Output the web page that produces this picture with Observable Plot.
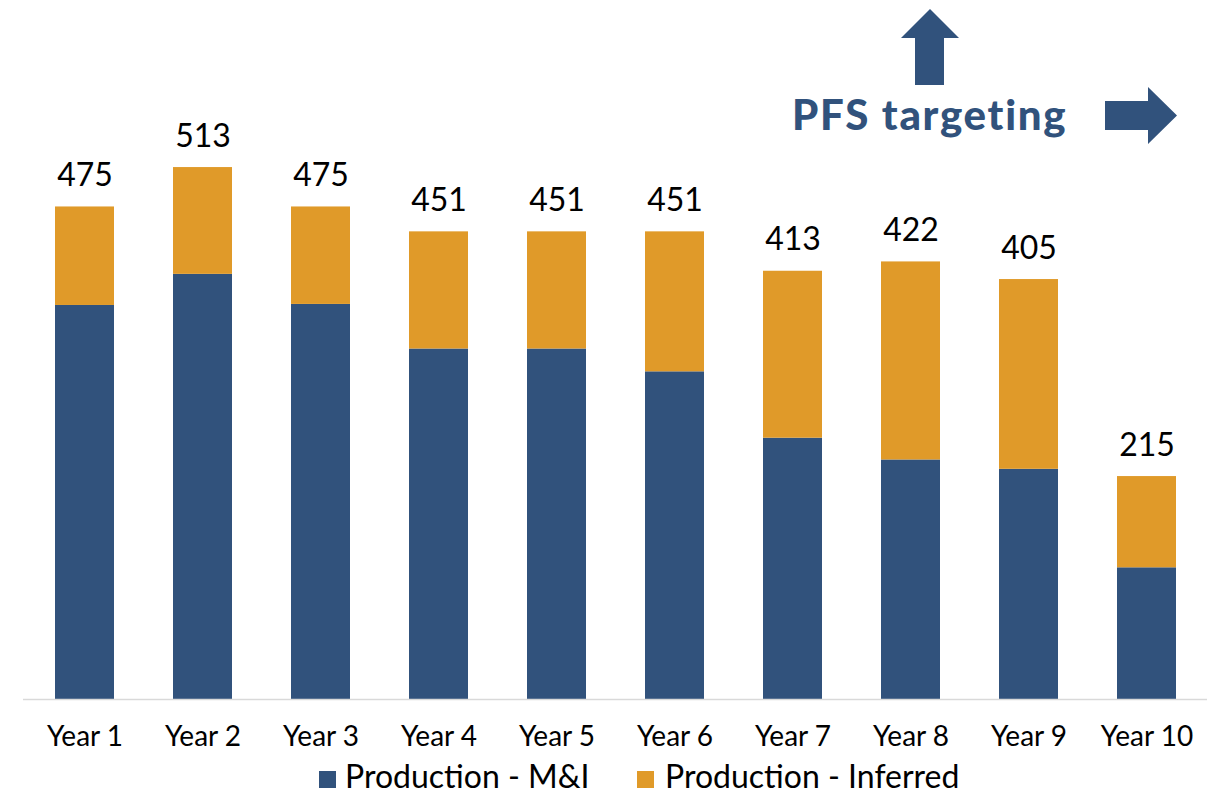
<!DOCTYPE html>
<html>
<head>
<meta charset="utf-8">
<script src="https://cdn.jsdelivr.net/npm/d3@7"></script>
<script src="https://cdn.jsdelivr.net/npm/@observablehq/plot@0.6"></script>
<style>
  body { margin: 0; background: #fff; font-family: Lato, "Noto Sans", sans-serif; }
  #wrap { position: relative; width: 1215px; height: 795px; }
  .swatch { position: absolute; top: 771px; width: 17px; height: 17px; }
  .legend-text { position: absolute; top: 757px; font-size: 32px; line-height: 1.2; color: #000; white-space: nowrap; }
</style>
</head>
<body>
<div id="wrap"></div>
<script>
const years = ["Year 1","Year 2","Year 3","Year 4","Year 5","Year 6","Year 7","Year 8","Year 9","Year 10"];
const totals = [475, 513, 475, 451, 451, 451, 413, 422, 405, 215];
const mi = [380, 410, 381, 338, 338, 316, 252, 231, 222, 127];
const inferred = totals.map((t, i) => t - mi[i]);
const seriesNames = ["Production - M&I", "Production - Inferred"];
const seriesColors = ["#31527C", "#E09A29"];
const annotationText = "PFS targeting";

const rows = [];
years.forEach((y, i) => {
  rows.push({year: y, series: seriesNames[0], value: mi[i]});
  rows.push({year: y, series: seriesNames[1], value: inferred[i]});
});
const labels = years.map((y, i) => ({year: y, total: totals[i]}));

const plot = Plot.plot({
  width: 1215,
  height: 755,
  marginLeft: 23,
  marginRight: 8,
  marginTop: 25,
  marginBottom: 56,
  style: {fontFamily: "Lato, 'Noto Sans', sans-serif", background: "#fff"},
  x: {domain: years, paddingInner: 0.5, paddingOuter: 0.25, label: null, tickSize: 0, tickPadding: 27},
  y: {domain: [0, 650], axis: null},
  color: {domain: seriesNames, range: seriesColors},
  marks: [
    Plot.barY(rows, {x: "year", y: "value", fill: "series", order: seriesNames}),
    Plot.ruleY([0], {stroke: "#d9d9d9", strokeWidth: 1.5}),
    Plot.text(labels, {x: "year", y: "total", text: d => String(d.total), lineAnchor: "bottom", dy: -21, fontSize: 32, fill: "#000"}),
    Plot.axisX({tickSize: 0, tickPadding: 27, fontSize: 28, fill: "#000", label: null})
  ]
});

const svg = d3.select(plot);
svg.selectAll("[aria-label='x-axis tick label'] text").style("font-size", "28px");
const blue = seriesColors[0];
// up arrow
svg.append("path")
  .attr("d", "M930,9 L959,38 L944,38 L944,85 L915,85 L915,38 L901,38 Z")
  .attr("fill", blue);
// right arrow
svg.append("path")
  .attr("d", "M1105,101 L1148,101 L1148,87 L1177,115.5 L1148,144 L1148,130 L1105,130 Z")
  .attr("fill", blue);
svg.append("text")
  .attr("x", 792)
  .attr("y", 130)
  .attr("text-anchor", "start")
  .attr("fill", blue)
  .style("font-size", "42px")
  .style("font-weight", "900")
  .style("letter-spacing", "1.7px")
  .style("font-family", "Lato, 'Noto Sans', sans-serif")
  .text(annotationText);

const wrap = document.getElementById("wrap");
wrap.appendChild(plot);
const swatchLeft = [319, 637];
const textLeft = [345, 665];
seriesNames.forEach((name, i) => {
  const sw = document.createElement("div");
  sw.className = "swatch";
  sw.style.left = swatchLeft[i] + "px";
  sw.style.background = seriesColors[i];
  const tx = document.createElement("div");
  tx.className = "legend-text";
  tx.style.left = textLeft[i] + "px";
  tx.textContent = name;
  wrap.appendChild(sw);
  wrap.appendChild(tx);
});
</script>
</body>
</html>
